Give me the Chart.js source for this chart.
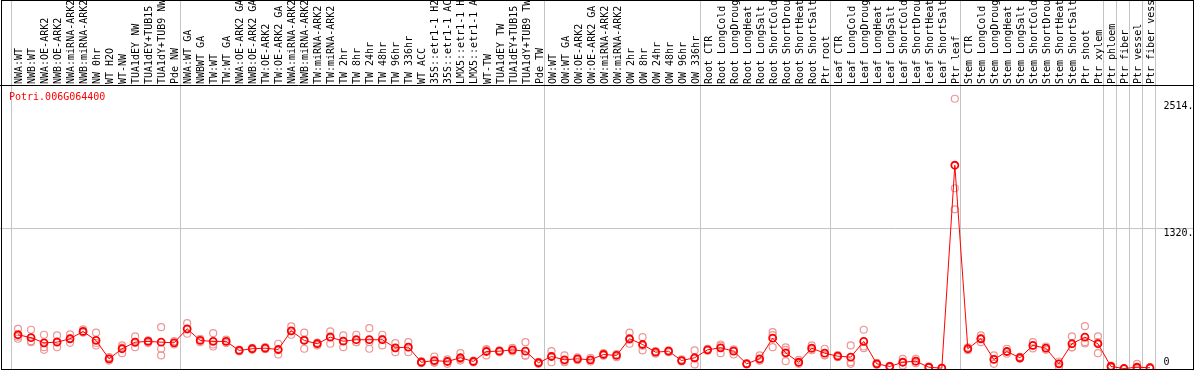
<!DOCTYPE html>
<html>
<head>
<meta charset="utf-8">
<script src="https://cdn.jsdelivr.net/npm/chart.js@4.4.1/dist/chart.umd.min.js"></script>
<style>
  html, body { margin: 0; padding: 0; background: #fff; }
  #wrap { width: 1194px; height: 370px; }
</style>
</head>
<body>
<div id="wrap"><canvas id="expChart" width="1194" height="370"></canvas></div>
<script>
const geneName = 'Potri.006G064400';

const categories = [
  'NWA:WT', 'NWB:WT', 'NWA:OE-ARK2', 'NWB:OE-ARK2', 'NWA:miRNA-ARK2', 'NWB:miRNA-ARK2', 'NW 0hr',
  'WT H2O', 'WT-NW', 'TUA1dEY NW', 'TUA1dEY+TUB15 NW', 'TUA1dY+TUB9 NW', 'Pde NW',
  'NWA:WT GA', 'NWBWT GA', 'TW:WT', 'TW:WT GA', 'NWA:OE-ARK2 GA', 'NWB:OE-ARK2 GA', 'TW:OE-ARK2',
  'TW:OE-ARK2 GA', 'NWA:miRNA-ARK2', 'NWB:miRNA-ARK2', 'TW:miRNA-ARK2', 'TW:miRNA-ARK2', 'TW 2hr',
  'TW 8hr', 'TW 24hr', 'TW 48hr', 'TW 96hr', 'TW 336hr', 'WT ACC', '35S::etr1-1 H2O', '35S::etr1-1 ACC',
  'LMX5::etr1-1 H2O', 'LMX5::etr1-1 ACC', 'WT-TW', 'TUA1dEY TW', 'TUA1dEY+TUB15 TW', 'TUA1dY+TUB9 TW', 'Pde TW',
  'OW:WT', 'OW:WT GA', 'OW:OE-ARK2', 'OW:OE-ARK2 GA', 'OW:miRNA-ARK2', 'OW:miRNA-ARK2', 'OW 2hr',
  'OW 8hr', 'OW 24hr', 'OW 48hr', 'OW 96hr', 'OW 336hr',
  'Root CTR', 'Root LongCold', 'Root LongDrought', 'Root LongHeat', 'Root LongSalt', 'Root ShortCold',
  'Root ShortDrought', 'Root ShortHeat', 'Root ShortSalt', 'Ptr root',
  'Leaf CTR', 'Leaf LongCold', 'Leaf LongDrought', 'Leaf LongHeat', 'Leaf LongSalt', 'Leaf ShortCold',
  'Leaf ShortDrought', 'Leaf ShortHeat', 'Leaf ShortSalt', 'Ptr leaf',
  'Stem CTR', 'Stem LongCold', 'Stem LongDrought', 'Stem LongHeat', 'Stem LongSalt', 'Stem ShortCold',
  'Stem ShortDrought', 'Stem ShortHeat', 'Stem ShortSalt', 'Ptr shoot', 'Ptr xylem',
  'Ptr phloem', 'Ptr fiber', 'Ptr vessel', 'Ptr fiber vessel'
];

// first index of each group (last entry = end)
const groupStarts = [0, 13, 41, 53, 63, 73, 84, 85, 86, 87, 88];

const meanValues = [
  318, 290, 242, 248, 280, 349, 264, 91, 186, 248, 255, 248, 242,
  374, 264, 255, 255, 170, 186, 191, 179, 355, 264, 233, 295, 257, 271, 271, 271, 195, 201, 59, 75, 66, 101, 66, 160, 163, 176, 163, 54,
  113, 82, 91, 82, 132, 123, 280, 226, 154, 163, 75, 101,
  176, 195, 163, 44, 91, 286, 148, 59, 191, 144,
  116, 107, 255, 44, 19, 59, 69, 12, 3, 1914,
  186, 280, 85, 160, 101, 217, 191, 44, 233, 295, 233,
  19, 0, 12, 7
];

const rep1 = [
  374, 365, 318, 311, 321, 368, 337, 107, 217, 302, 264, 389, 257,
  427, 280, 333, 271, 179, 195, 201, 233, 396, 337, 239, 349, 311, 318, 380, 318, 239, 248, 69, 113, 85, 144, 75, 182, 172, 195, 248, 63,
  163, 123, 104, 101, 144, 135, 337, 295, 163, 172, 85, 170,
  186, 226, 179, 50, 123, 342, 198, 82, 217, 186,
  126, 217, 365, 54, 25, 91, 91, 19, 7, 2540,
  198, 311, 123, 186, 110, 248, 207, 66, 302, 399, 302,
  28, 0, 44, 12
];

const rep2 = [
  280, 248, 201, 201, 242, 340, 217, 75, 144, 201, 239, 186, 226,
  327, 248, 207, 239, 160, 176, 182, 132, 318, 186, 217, 233, 201, 248, 186, 217, 154, 154, 50, 59, 44, 75, 57, 123, 154, 160, 123, 44,
  59, 59, 78, 66, 120, 107, 233, 170, 139, 154, 66, 38,
  167, 144, 132, 38, 75, 201, 69, 44, 172, 123,
  107, 44, 191, 35, 12, 28, 50, 7, 0, 1697,
  172, 248, 44, 139, 91, 189, 176, 17, 201, 248, 144,
  9, 0, 0, 0
];

const rep3 = [
  300, 257, 176, 255, 283, 340, 240, 94, 197, 241, 262, 123, null,
  368, null, 226, null, null, null, null, 172, 352, 272, 243, 302, 259, 247, 247, 278, 192, 201, 58, 53, 69, 88, null, 176, null, 173, 120, null,
  116, 66, null, null, null, null, 271, 214, 160, null, null, 94,
  null, 214, 179, null, 75, 314, 176, 54, 186, 126,
  null, 59, 207, null, null, 59, 66, null, null, 1499,
  null, 283, 88, 157, null, 214, null, 47, 198, 236, 248,
  null, null, 0, null
];

const yTickValues = [0, 1320, 2514];
const yTickLabels = ['0', '1320.', '2514.'];

const MONO = '10px "DejaVu Sans Mono", "Liberation Mono", monospace';

const framePlugin = {
  id: 'frame',
  beforeDatasetsDraw(chart) {
    const ctx = chart.ctx;
    const xs = chart.scales.x;
    const ys = chart.scales.y;
    const area = chart.chartArea;
    const half = (xs.getPixelForValue(1) - xs.getPixelForValue(0)) / 2;
    ctx.save();
    ctx.strokeStyle = '#c4c4c4';
    ctx.lineWidth = 1;
    // group separators, through label area
    groupStarts.forEach(k => {
      const px = k < categories.length ? xs.getPixelForValue(k) - half : xs.getPixelForValue(k - 1) + half;
      const x = Math.round(px) - 0.5;
      ctx.beginPath();
      ctx.moveTo(x, 0);
      ctx.lineTo(x, area.bottom);
      ctx.stroke();
    });
    // horizontal grid at middle tick
    const gy = Math.round(ys.getPixelForValue(1320)) + 0.5;
    ctx.beginPath();
    ctx.moveTo(0, gy);
    ctx.lineTo(chart.width, gy);
    ctx.stroke();
    ctx.restore();
  },
  afterDraw(chart) {
    const ctx = chart.ctx;
    const xs = chart.scales.x;
    const ys = chart.scales.y;
    const area = chart.chartArea;
    ctx.save();
    // category labels, rotated
    ctx.font = MONO;
    ctx.fillStyle = '#000';
    ctx.textAlign = 'left';
    ctx.textBaseline = 'middle';
    categories.forEach((lab, i) => {
      const x = xs.getPixelForValue(i) + 1.5;
      ctx.save();
      ctx.translate(x, area.top - 2);
      ctx.rotate(-Math.PI / 2);
      ctx.fillText(lab, 0, 0);
      ctx.restore();
    });
    // y labels at right
    yTickValues.forEach((v, i) => {
      const y = ys.getPixelForValue(v) + (v === 0 ? -6 : 5);
      ctx.fillText(yTickLabels[i], area.right + 7, y);
    });
    // gene name
    ctx.fillStyle = '#ff0000';
    ctx.fillText(geneName, 9, area.top + 11);
    // black frame
    ctx.strokeStyle = '#000';
    ctx.lineWidth = 1;
    ctx.strokeRect(1.5, 0.5, chart.width - 2, area.bottom);
    ctx.beginPath();
    ctx.moveTo(0, area.top - 0.5);
    ctx.lineTo(chart.width, area.top - 0.5);
    ctx.stroke();
    ctx.restore();
  }
};

const repColor = 'rgb(238, 150, 150)';

function repSet(data) {
  return {
    data: data,
    showLine: false,
    pointRadius: 3.5,
    pointBorderWidth: 1.2,
    pointBorderColor: repColor,
    pointBackgroundColor: 'rgba(0,0,0,0)',
    borderColor: repColor
  };
}

new Chart(document.getElementById('expChart'), {
  type: 'line',
  data: {
    labels: categories,
    datasets: [
      {
        data: meanValues,
        borderColor: '#ff0000',
        borderWidth: 1,
        pointRadius: 3.5,
        pointBorderWidth: 1.8,
        pointBorderColor: '#ff0000',
        pointBackgroundColor: 'rgba(0,0,0,0)',
        tension: 0
      },
      repSet(rep1),
      repSet(rep2),
      repSet(rep3)
    ]
  },
  options: {
    responsive: false,
    animation: false,
    events: [],
    layout: { autoPadding: false, padding: { top: 86, left: 11.5, right: 37.5, bottom: 1 } },
    plugins: { legend: { display: false }, tooltip: { enabled: false } },
    scales: {
      x: { type: 'category', offset: true, display: false },
      y: { min: -4.7, max: 2660, display: false }
    }
  },
  plugins: [framePlugin]
});
</script>
</body>
</html>
